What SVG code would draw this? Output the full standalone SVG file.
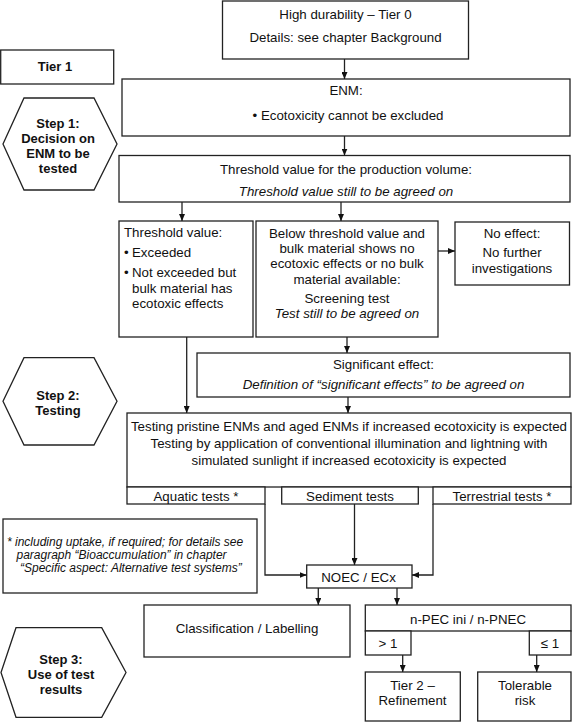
<svg xmlns="http://www.w3.org/2000/svg" width="572" height="722" viewBox="0 0 572 722">
<defs>
<style>
.b{fill:#fff;stroke:#222;stroke-width:1.3}
.t{font-family:"Liberation Sans",Arial,sans-serif;font-size:13.3px;fill:#111}
.c{text-anchor:middle}
.i{font-style:italic}
.s{font-weight:bold;font-size:13px}
.fn{font-size:12px}
.l{fill:none;stroke:#222;stroke-width:1.3}
</style>
<marker id="ah" viewBox="0 0 7 6" refX="7" refY="3" markerWidth="7" markerHeight="6" markerUnits="userSpaceOnUse" orient="auto">
<path d="M0,0 L7,3 L0,6 z" fill="#111"/>
</marker>
</defs>
<rect width="572" height="722" fill="#fff"/>

<g id="tier0">
<rect class="b" x="222.5" y="1" width="246" height="58"/>
<text class="t c" x="345.5" y="18.5">High durability – Tier 0</text>
<text class="t c" x="345.5" y="41.5">Details: see chapter Background</text>
</g>

<g id="tier1">
<rect class="b" x="0.7" y="50" width="113" height="34"/>
<text class="t c s" x="55" y="71">Tier 1</text>
</g>

<g id="step1">
<polygon class="b" points="24,98 94,98 117,144 94,190 24,190 3,144"/>
<text class="t c s" x="58" y="127.5">Step 1:</text>
<text class="t c s" x="58" y="142.5">Decision on</text>
<text class="t c s" x="58" y="157.5">ENM to be</text>
<text class="t c s" x="58" y="172.5">tested</text>
</g>

<g id="enm">
<rect class="b" x="122" y="79" width="448" height="57"/>
<text class="t c" x="346" y="94.5">ENM:</text>
<text class="t c" x="348" y="119.5">•  Ecotoxicity cannot be excluded</text>
</g>

<g id="threshold">
<rect class="b" x="119" y="155.5" width="451" height="46.5"/>
<text class="t c" x="346" y="173.5">Threshold value for the production volume:</text>
<text class="t c i" x="346" y="196">Threshold value still to be agreed on</text>
</g>

<g id="exceeded">
<rect class="b" x="119" y="221" width="134" height="116"/>
<text class="t" x="124" y="237">Threshold value:</text>
<text class="t" x="124" y="257">•</text>
<text class="t" x="132" y="257">Exceeded</text>
<text class="t" x="124" y="277">•</text>
<text class="t" x="132" y="277">Not exceeded but</text>
<text class="t" x="132" y="292.5">bulk material has</text>
<text class="t" x="132" y="307.5">ecotoxic effects</text>
</g>

<g id="below">
<rect class="b" x="256" y="221" width="182" height="116"/>
<text class="t c" x="347" y="237.5">Below threshold value and</text>
<text class="t c" x="347" y="252.5">bulk material shows no</text>
<text class="t c" x="347" y="267.5">ecotoxic effects or no bulk</text>
<text class="t c" x="347" y="283.5">material available:</text>
<text class="t c" x="347" y="302.5">Screening test</text>
<text class="t c i" x="347" y="317.5">Test still to be agreed on</text>
</g>

<g id="noeffect">
<rect class="b" x="455" y="222" width="114.5" height="63"/>
<text class="t c" x="512" y="237.5">No effect:</text>
<text class="t c" x="512" y="257">No further</text>
<text class="t c" x="512" y="272.5">investigations</text>
</g>

<g id="significant">
<rect class="b" x="197" y="353" width="373" height="44"/>
<text class="t c" x="383.5" y="368.5">Significant effect:</text>
<text class="t c i" x="383.5" y="389">Definition of “significant effects” to be agreed on</text>
</g>

<g id="step2">
<polygon class="b" points="24,357.7 94,357.7 117,401.3 94,445 24,445 3,401.3"/>
<text class="t c s" x="58" y="399.5">Step 2:</text>
<text class="t c s" x="58" y="414.5">Testing</text>
</g>

<g id="testing">
<rect class="b" x="127" y="413" width="444" height="74"/>
<text class="t c" x="349" y="431">Testing pristine ENMs and aged ENMs if increased ecotoxicity is expected</text>
<text class="t c" x="349" y="447.5">Testing by application of conventional illumination and lightning with</text>
<text class="t c" x="349" y="464.5">simulated sunlight if increased ecotoxicity is expected</text>
</g>

<g id="aquatic">
<rect class="b" x="127" y="487" width="138" height="17"/>
<text class="t c" x="196" y="500.5">Aquatic tests *</text>
</g>
<g id="sediment">
<rect class="b" x="281.7" y="487" width="136.6" height="17"/>
<text class="t c" x="350" y="500.5">Sediment tests</text>
</g>
<g id="terrestrial">
<rect class="b" x="433" y="487" width="138" height="17"/>
<text class="t c" x="502" y="500.5">Terrestrial tests *</text>
</g>

<g id="footnote">
<rect class="b" x="3" y="519" width="254" height="74"/>
<text class="t i fn" x="7" y="545.5">* including uptake, if required; for details see</text>
<text class="t i fn" x="16.5" y="558.5">paragraph “Bioaccumulation” in chapter</text>
<text class="t i fn" x="20" y="571.5">“Specific aspect: Alternative test systems”</text>
</g>

<g id="noec">
<rect class="b" x="306.7" y="565" width="105.3" height="23"/>
<text class="t c" x="358.5" y="581.5">NOEC / ECx</text>
</g>

<g id="classification">
<rect class="b" x="144" y="605" width="206" height="52"/>
<text class="t c" x="247" y="632.5">Classification / Labelling</text>
</g>

<g id="npec">
<rect class="b" x="365.3" y="605" width="205.7" height="26"/>
<text class="t c" x="468" y="623.5">n-PEC ini / n-PNEC</text>
</g>
<g id="gt1">
<rect class="b" x="365.3" y="631" width="45.7" height="24"/>
<text class="t c" x="388" y="647.5">&gt; 1</text>
</g>
<g id="le1">
<rect class="b" x="529.3" y="631" width="41.7" height="24"/>
<text class="t c" x="550" y="647.5">≤ 1</text>
</g>

<g id="tier2">
<rect class="b" x="365.3" y="672" width="95" height="49"/>
<text class="t c" x="412.5" y="689.5">Tier 2 –</text>
<text class="t c" x="412.5" y="704.5">Refinement</text>
</g>
<g id="tolerable">
<rect class="b" x="477.7" y="672" width="93.3" height="49"/>
<text class="t c" x="525" y="689.5">Tolerable</text>
<text class="t c" x="525" y="704.5">risk</text>
</g>

<g id="step3">
<polygon class="b" points="16,627.7 101.7,627.7 126,672.5 101.7,717.3 16,717.3 1,672.5"/>
<text class="t c s" x="61" y="663.5">Step 3:</text>
<text class="t c s" x="61" y="679">Use of test</text>
<text class="t c s" x="61" y="694">results</text>
</g>

<g id="connectors">
<path class="l" d="M344.5,59 V79" marker-end="url(#ah)"/>
<path class="l" d="M344.5,136 V155.5" marker-end="url(#ah)"/>
<path class="l" d="M182,202 V221" marker-end="url(#ah)"/>
<path class="l" d="M341,202 V221" marker-end="url(#ah)"/>
<path class="l" d="M438,251 H455" marker-end="url(#ah)"/>
<path class="l" d="M347,337 V353" marker-end="url(#ah)"/>
<path class="l" d="M186.7,337 V413" marker-end="url(#ah)"/>
<path class="l" d="M348,397 V413" marker-end="url(#ah)"/>
<path class="l" d="M265,504 V575 H306.7" marker-end="url(#ah)"/>
<path class="l" d="M433,504 V575 H412" marker-end="url(#ah)"/>
<path class="l" d="M354.5,504 V565" marker-end="url(#ah)"/>
<path class="l" d="M318.3,588 V605" marker-end="url(#ah)"/>
<path class="l" d="M397,588 V605" marker-end="url(#ah)"/>
<path class="l" d="M402.7,655 V672" marker-end="url(#ah)"/>
<path class="l" d="M536.7,655 V672" marker-end="url(#ah)"/>
</g>
</svg>
